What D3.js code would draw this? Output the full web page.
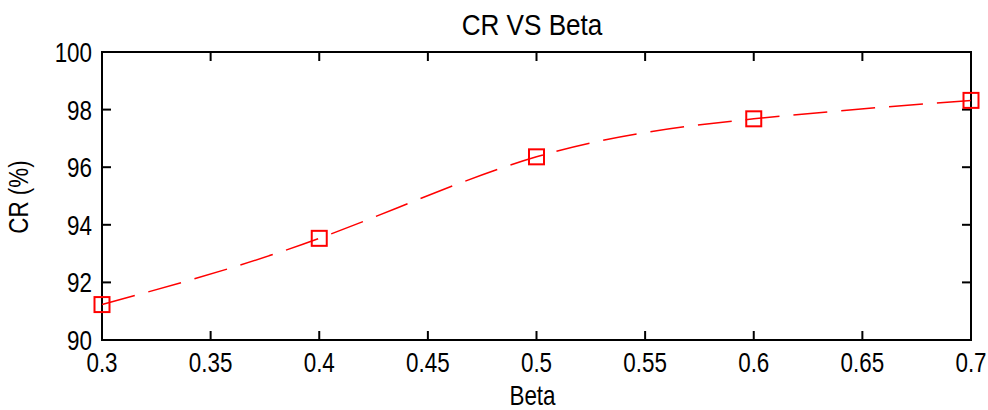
<!DOCTYPE html>
<html>
<head>
<meta charset="utf-8">
<script src="https://cdn.jsdelivr.net/npm/d3@7"></script>
<style>
  body { margin: 0; background: #fff; }
  svg text { font-family: "Liberation Sans", Arial, sans-serif; fill: #000; }
</style>
</head>
<body>
<svg id="chart"></svg>
<script>
// values
var beta = [0.3, 0.4, 0.5, 0.6, 0.7];
var cr = [91.23, 93.53, 96.36, 97.68, 98.32];
var xTicks = [0.3, 0.35, 0.4, 0.45, 0.5, 0.55, 0.6, 0.65, 0.7];
var yTicks = [90, 92, 94, 96, 98, 100];
var title = 'CR VS Beta';
var xLabel = 'Beta';
var yLabel = 'CR (%)';

var width = 988;
var height = 410;
var margin = { top: 52, right: 17, bottom: 70, left: 102 };

var svg = d3.select('#chart').attr('width', width).attr('height', height);

var x = d3.scaleLinear().domain([0.3, 0.7]).range([margin.left, width - margin.right]);
var y = d3.scaleLinear().domain([90, 100]).range([height - margin.bottom, margin.top]);

var tickLen = 9;
var squeeze = 0.83; // the original font is narrow and tall
var fmt = function (d) { return String(+d.toFixed(2)); };

// axes box
svg.append('rect')
  .attr('x', x(0.3)).attr('y', y(100))
  .attr('width', x(0.7) - x(0.3)).attr('height', y(90) - y(100))
  .attr('fill', 'none').attr('stroke', '#000').attr('stroke-width', 2);

// ticks pointing inward on all four sides
var tk = svg.append('g').attr('stroke', '#000').attr('stroke-width', 2);
xTicks.forEach(function (d) {
  tk.append('line').attr('x1', x(d)).attr('x2', x(d)).attr('y1', y(90)).attr('y2', y(90) - tickLen);
  tk.append('line').attr('x1', x(d)).attr('x2', x(d)).attr('y1', y(100)).attr('y2', y(100) + tickLen);
});
yTicks.forEach(function (d) {
  tk.append('line').attr('x1', x(0.3)).attr('x2', x(0.3) + tickLen).attr('y1', y(d)).attr('y2', y(d));
  tk.append('line').attr('x1', x(0.7)).attr('x2', x(0.7) - tickLen).attr('y1', y(d)).attr('y2', y(d));
});

// tick labels
svg.append('g').selectAll('text').data(xTicks).enter().append('text')
  .attr('transform', function (d) {
    return 'translate(' + x(d) + ',' + (y(90) + 32) + ') scale(' + squeeze + ',1)';
  })
  .attr('text-anchor', 'middle')
  .style('font-size', '27px')
  .text(fmt);

svg.append('g').selectAll('text').data(yTicks).enter().append('text')
  .attr('transform', function (d) {
    return 'translate(' + (x(0.3) - 10) + ',' + (y(d) + 10) + ') scale(' + squeeze + ',1)';
  })
  .attr('text-anchor', 'end')
  .style('font-size', '27px')
  .text(function (d) { return d; });

// data line, dashed
var line = d3.line()
  .x(function (d, i) { return x(beta[i]); })
  .y(function (d) { return y(d); })
  .curve(d3.curveNatural);

svg.append('path')
  .datum(cr)
  .attr('d', line)
  .attr('fill', 'none')
  .attr('stroke', '#ff0000')
  .attr('stroke-width', 1.5)
  .attr('stroke-dasharray', '34,14');

// square markers
var s = 15;
svg.append('g').selectAll('rect').data(cr).enter().append('rect')
  .attr('x', function (d, i) { return x(beta[i]) - s / 2; })
  .attr('y', function (d) { return y(d) - s / 2; })
  .attr('width', s).attr('height', s)
  .attr('fill', 'none')
  .attr('stroke', '#ff0000')
  .attr('stroke-width', 2);

// titles
svg.append('text')
  .attr('transform', 'translate(532,35) scale(0.87,1)')
  .attr('text-anchor', 'middle')
  .style('font-size', '30px')
  .text(title);

svg.append('text')
  .attr('transform', 'translate(' + ((x(0.3) + x(0.7)) / 2 - 4) + ',405) scale(' + squeeze + ',1)')
  .attr('text-anchor', 'middle')
  .style('font-size', '27px')
  .text(xLabel);

svg.append('text')
  .attr('transform', 'translate(28,' + (y(95) + 1) + ') rotate(-90) scale(' + squeeze + ',1)')
  .attr('text-anchor', 'middle')
  .style('font-size', '27px')
  .text(yLabel);
</script>
</body>
</html>
